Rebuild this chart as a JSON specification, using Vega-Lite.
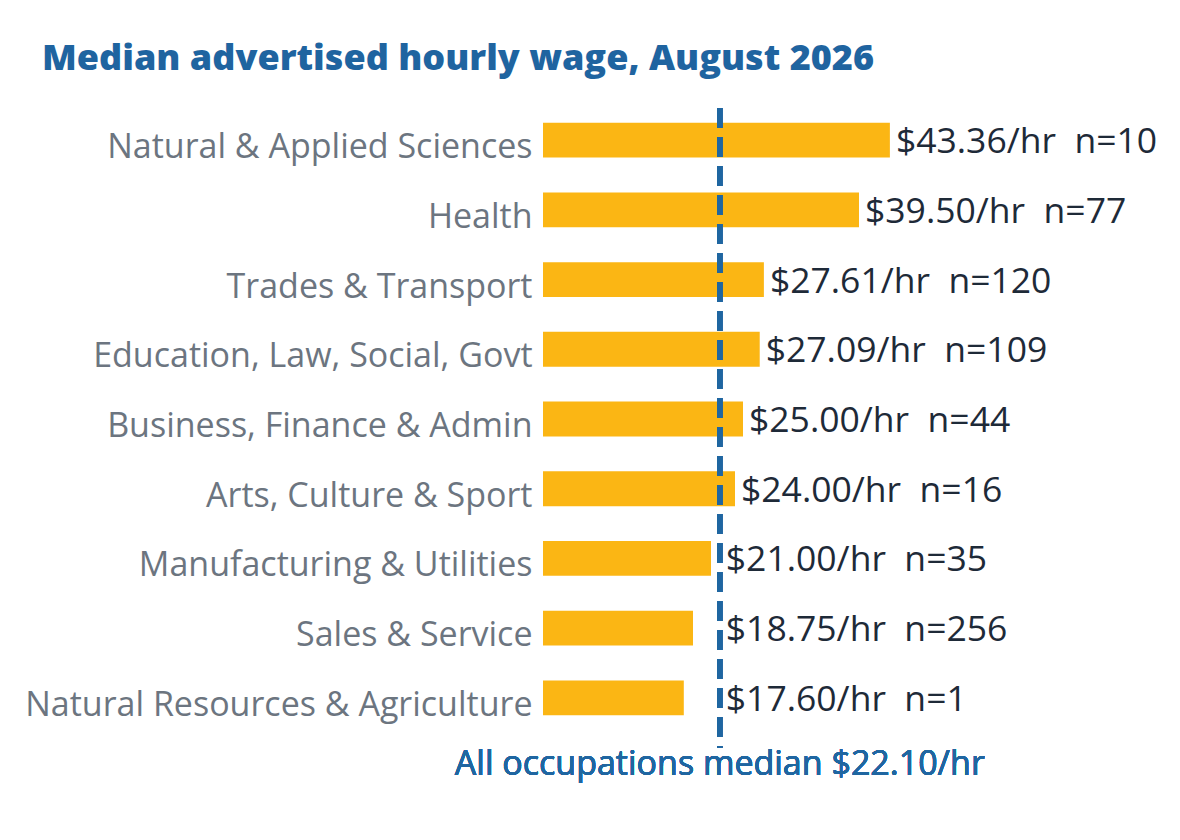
{
  "$schema": "https://vega.github.io/schema/vega-lite/v6.json",
  "autosize": {"type": "none"},
  "width": 400,
  "height": 640,
  "padding": {"left": 543, "top": 108, "right": 237, "bottom": 92},
  "background": "white",
  "title": {
    "text": "Median advertised hourly wage, August 2026",
    "anchor": "start",
    "frame": "group",
    "dx": -501,
    "offset": 28,
    "font": "Open Sans",
    "fontSize": 36,
    "fontWeight": 800,
    "color": "#1f64a0"
  },
  "data": {
    "values": [
      {"occupation": "Natural & Applied Sciences", "wage": 43.36, "n": 10},
      {"occupation": "Health", "wage": 39.50, "n": 77},
      {"occupation": "Trades & Transport", "wage": 27.61, "n": 120},
      {"occupation": "Education, Law, Social, Govt", "wage": 27.09, "n": 109},
      {"occupation": "Business, Finance & Admin", "wage": 25.00, "n": 44},
      {"occupation": "Arts, Culture & Sport", "wage": 24.00, "n": 16},
      {"occupation": "Manufacturing & Utilities", "wage": 21.00, "n": 35},
      {"occupation": "Sales & Service", "wage": 18.75, "n": 256},
      {"occupation": "Natural Resources & Agriculture", "wage": 17.60, "n": 1}
    ]
  },
  "transform": [
    {"calculate": "max(datum.wage, 22.1)", "as": "label_x"},
    {"calculate": "'$' + format(datum.wage, '.2f') + '/hr\u00a0\u00a0n=' + datum.n", "as": "label"}
  ],
  "encoding": {
    "y": {
      "field": "occupation",
      "type": "nominal",
      "sort": null,
      "scale": {"paddingInner": 0.5, "paddingOuter": 0.34, "align": 0.31},
      "axis": {
        "title": null,
        "domain": false,
        "ticks": false,
        "labelPadding": 11,
        "labelLimit": 600,
        "labelOffset": 8,
        "labelFont": "Open Sans",
        "labelFontSize": 34,
        "labelColor": "#6c7580"
      }
    }
  },
  "layer": [
    {
      "mark": {"type": "bar", "color": "#fbb614"},
      "encoding": {
        "x": {"field": "wage", "type": "quantitative", "scale": {"domain": [0, 50]}, "axis": null}
      }
    },
    {
      "mark": {"type": "text", "align": "left", "baseline": "middle", "dx": 6, "dy": 2, "font": "Open Sans", "fontSize": 35.5, "color": "#1e2a38"},
      "encoding": {
        "x": {"field": "label_x", "type": "quantitative"},
        "text": {"field": "label"}
      }
    },
    {
      "mark": {"type": "rule", "color": "#1f66a1", "strokeWidth": 5, "strokeDash": [20, 9]},
      "encoding": {
        "x": {"datum": 22.1},
        "y": null
      }
    },
    {
      "mark": {"type": "text", "align": "center", "baseline": "top", "font": "Open Sans", "fontSize": 34, "color": "#1f66a1", "text": "All occupations median $22.10/hr"},
      "encoding": {
        "x": {"datum": 22.1},
        "y": {"value": {"expr": "height"}}
      }
    }
  ],
  "config": {
    "view": {"stroke": null}
  }
}
